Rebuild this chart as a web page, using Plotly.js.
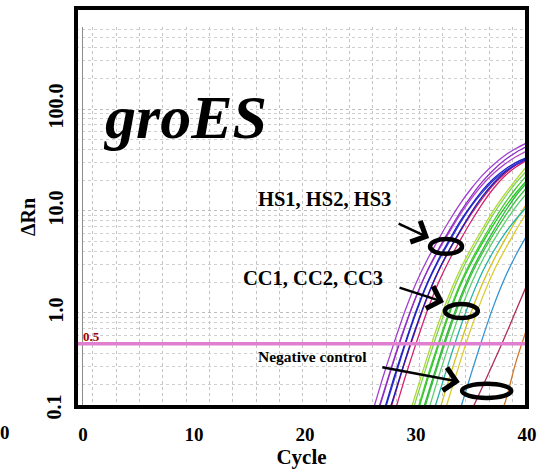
<!DOCTYPE html>
<html>
<head>
<meta charset="utf-8">
<script src="https://cdn.plot.ly/plotly-3.0.1.min.js"></script>
<style>
  html, body { margin: 0; padding: 0; background: #ffffff; }
  #chart { width: 540px; height: 469px; }
</style>
</head>
<body>
<div id="chart"></div>
<script>
// ---- data ----
const cycles = [24, 25, 26, 27, 28, 29, 30, 31, 32, 33, 34, 35, 36, 37, 38, 39, 40];

// heat-shock samples (HS1-HS3)
const hsA = [null, 0.045, 0.10, 0.23, 0.50, 1.04, 1.96, 3.31, 5.21, 8.02, 11.9, 16.7, 22.5, 28.6, 35.0, 41.0, 46.5];
const hsB = [null, 0.030, 0.068, 0.151, 0.339, 0.724, 1.43, 2.57, 4.17, 6.46, 9.77, 14.1, 19.5, 25.4, 31.6, 37.5, 43.0];
const hsC = [null, 0.031, 0.070, 0.156, 0.35, 0.74, 1.45, 2.55, 4.05, 6.2, 9.3, 13.3, 18.2, 23.4, 28.8, 34.0, 39.0];
const hsD = [null, null, 0.045, 0.10, 0.23, 0.50, 1.04, 1.96, 3.31, 5.21, 8.02, 11.5, 16.0, 20.8, 25.5, 29.8, 33.5];
const hsE = [null, null, 0.042, 0.095, 0.215, 0.48, 1.0, 1.9, 3.2, 5.0, 7.7, 11.2, 15.3, 20.0, 24.5, 28.6, 32.0];
const hsF = [null, null, 0.030, 0.068, 0.151, 0.339, 0.724, 1.43, 2.57, 4.17, 6.46, 9.77, 14.0, 18.8, 24.0, 28.5, 32.5];
const hsG = [null, null, null, 0.045, 0.10, 0.23, 0.50, 1.04, 1.96, 3.31, 5.21, 8.02, 11.9, 16.7, 22.0, 27.0, 31.5];
const hsH = [null, null, 0.028, 0.064, 0.145, 0.33, 0.70, 1.40, 2.52, 4.1, 6.3, 9.4, 13.4, 18.2, 23.2, 28.2, 33.0];

// control samples (CC1-CC3)
const ccA = [null, null, null, null, 0.032, 0.073, 0.164, 0.366, 0.78, 1.52, 2.70, 4.36, 6.74, 10.2, 14.6, 20.3, 27.5];
const ccB = [null, null, null, null, 0.027, 0.062, 0.140, 0.313, 0.673, 1.34, 2.43, 3.98, 6.18, 9.40, 13.6, 18.9, 24.8];
const ccC = [null, null, null, null, null, 0.045, 0.10, 0.23, 0.50, 1.04, 1.96, 3.31, 5.21, 8.02, 11.9, 16.7, 22.5];
const ccD = [null, null, null, null, null, 0.042, 0.094, 0.215, 0.47, 0.98, 1.86, 3.12, 4.9, 7.4, 10.8, 15.0, 20.0];
const ccE = [null, null, null, null, null, 0.030, 0.068, 0.151, 0.339, 0.724, 1.43, 2.57, 4.17, 6.46, 9.77, 14.1, 19.0];
const ccF = [null, null, null, null, null, 0.028, 0.063, 0.14, 0.315, 0.67, 1.33, 2.40, 3.90, 5.95, 8.8, 12.6, 17.0];
const ccG = [null, null, null, null, null, null, 0.045, 0.10, 0.23, 0.50, 1.04, 1.96, 3.31, 5.15, 7.7, 11.0, 15.0];

// other / late wells
const lateA = [null, null, null, null, null, null, 0.030, 0.068, 0.151, 0.339, 0.724, 1.43, 2.55, 4.05, 6.0, 8.3, 11.0];
const lateB = [null, null, null, null, null, null, null, 0.045, 0.10, 0.23, 0.50, 1.04, 1.96, 3.31, 5.21, 8.02, 11.9];
const lateC = [null, null, null, null, null, null, null, 0.030, 0.068, 0.151, 0.339, 0.724, 1.43, 2.57, 4.17, 6.46, 9.77];
const lateD = [null, null, null, null, null, null, null, null, null, 0.052, 0.115, 0.26, 0.57, 1.18, 2.2, 3.7, 5.8];
const lateE = [null, null, null, null, null, null, null, null, null, null, 0.065, 0.11, 0.19, 0.33, 0.58, 1.05, 1.9];
const lateF = [null, null, null, null, null, null, null, null, null, null, null, null, null, 0.07, 0.13, 0.33, 0.71];

const threshold = 0.5;
const thresholdX = [-0.63, 40];
const xTicks = [0, 10, 20, 30, 40];
const yTicks = [1, 10, 100];
const yTickText = ['1.0', '10.0', '100.0'];

// ---- styles ----
const seriesList = [
  {y: lateF, color: '#d2782a'},
  {y: lateE, color: '#b02c5c'},
  {y: lateD, color: '#3494d4'},
  {y: lateC, color: '#dccc30'},
  {y: lateB, color: '#d4c018'},
  {y: lateA, color: '#22b4a4'},
  {y: ccG, color: '#5cd070'},
  {y: ccF, color: '#3cc040'},
  {y: ccE, color: '#30b838'},
  {y: ccD, color: '#1ecc1e'},
  {y: ccC, color: '#48c838'},
  {y: ccB, color: '#80d454'},
  {y: ccA, color: '#b0d838'},
  {y: hsH, color: '#c81c6c'},
  {y: hsG, color: '#d4206e'},
  {y: hsF, color: '#1c1cb0'},
  {y: hsE, color: '#3232d2'},
  {y: hsD, color: '#2222c4'},
  {y: hsC, color: '#b048c8'},
  {y: hsB, color: '#8c2cc4'},
  {y: hsA, color: '#a040d0'}
];

const FONT = 'Liberation Serif, Times New Roman, serif';

const traces = seriesList.map(s => ({
  type: 'scatter', mode: 'lines', x: cycles, y: s.y,
  line: {color: s.color, width: 1.3, shape: 'spline', smoothing: 0.8},
  hoverinfo: 'skip', showlegend: false
}));

traces.push({
  type: 'scatter', mode: 'lines', x: thresholdX, y: [threshold, threshold],
  line: {color: '#e07fd0', width: 3.5}, hoverinfo: 'skip', showlegend: false
});

const layout = {
  width: 540, height: 469,
  margin: {l: 76, r: 13, t: 27, b: 62},
  paper_bgcolor: '#ffffff', plot_bgcolor: '#ffffff',
  showlegend: false,
  font: {family: FONT, color: '#000'},
  xaxis: {
    range: [-0.63, 40], tickvals: xTicks, ticks: '',
    showgrid: false, zeroline: true, zerolinecolor: '#8c8c8c', zerolinewidth: 1,
    showline: false,
    tickfont: {family: FONT, size: 19, weight: 'bold', color: '#000'},
    ticklabelstandoff: 14,
    minor: {tick0: 0.9, dtick: 2.1, showgrid: true, gridcolor: '#c4c4c4', griddash: 'dot', gridwidth: 1},
    title: {text: 'Cycle', font: {family: FONT, size: 21, weight: 'bold', color: '#000'}, standoff: 8},
    automargin: false
  },
  yaxis: {
    type: 'log', range: [-0.922, 2.804],
    tickvals: yTicks, ticktext: yTickText, tickangle: -90, ticks: '',
    showgrid: true, gridcolor: '#bdbdbd', griddash: 'dot', gridwidth: 1,
    zeroline: false, showline: false,
    tickfont: {family: FONT, size: 20, weight: 'bold', color: '#000'},
    ticklabelstandoff: 8,
    minor: {dtick: 'D1', showgrid: true, gridcolor: '#cfcfcf', griddash: 'dot', gridwidth: 1},
    title: {text: 'ΔRn', font: {family: FONT, size: 20, weight: 'bold', color: '#000'}, standoff: 4},
    automargin: false
  },
  shapes: [
    {type: 'rect', xref: 'paper', yref: 'paper', x0: 0, x1: 1, y0: 0, y1: 1.05,
     line: {color: '#000', width: 4}, fillcolor: 'rgba(0,0,0,0)'},
    {type: 'circle', xref: 'paper', yref: 'paper', x0: 0.785, x1: 0.856, y0: 0.403, y1: 0.442,
     line: {color: '#000', width: 4.5}},
    {type: 'circle', xref: 'paper', yref: 'paper', x0: 0.818, x1: 0.891, y0: 0.234, y1: 0.271,
     line: {color: '#000', width: 4.5}},
    {type: 'circle', xref: 'paper', yref: 'paper', x0: 0.856, x1: 0.965, y0: 0.024, y1: 0.061,
     line: {color: '#000', width: 4.5}}
  ],
  annotations: [
    {xref: 'paper', yref: 'paper', x: 0.056, y: 0.763, xanchor: 'left', yanchor: 'middle',
     text: '<b><i>groES</i></b>', showarrow: false, font: {family: FONT, size: 62, color: '#000'}},
    {xref: 'paper', yref: 'paper', x: 0.399, y: 0.547, xanchor: 'left', yanchor: 'middle',
     text: '<b>HS1, HS2, HS3</b>', showarrow: false, font: {family: FONT, size: 20.5, color: '#000'}},
    {xref: 'paper', yref: 'paper', x: 0.366, y: 0.339, xanchor: 'left', yanchor: 'middle',
     text: '<b>CC1, CC2, CC3</b>', showarrow: false, font: {family: FONT, size: 20.5, color: '#000'}},
    {xref: 'paper', yref: 'paper', x: 0.399, y: 0.134, xanchor: 'left', yanchor: 'middle',
     text: '<b>Negative control</b>', showarrow: false, font: {family: FONT, size: 15.5, color: '#000'}},
    {xref: 'paper', yref: 'paper', x: 0.012, y: 0.185, xanchor: 'left', yanchor: 'middle',
     text: '<b>0.5</b>', showarrow: false, font: {family: FONT, size: 13, color: '#a00000'}},
    {xref: 'paper', yref: 'paper', x: -0.0477, y: 0, xanchor: 'center', yanchor: 'middle',
     text: '<b>0.1</b>', textangle: -90, showarrow: false, font: {family: FONT, size: 20, color: '#000'}},
    {xref: 'paper', yref: 'paper', x: -0.157, y: -0.066, xanchor: 'center', yanchor: 'middle',
     text: '<b>0</b>', showarrow: false, font: {family: FONT, size: 19, color: '#000'}},
    // arrows
    {xref: 'paper', yref: 'paper', x: 0.783, y: 0.445, ax: -32, ay: -15, text: '',
     showarrow: true, arrowhead: 4, arrowsize: 1.8, arrowwidth: 2.5, arrowcolor: '#000'},
    {xref: 'paper', yref: 'paper', x: 0.816, y: 0.276, ax: -46, ay: -15, text: '',
     showarrow: true, arrowhead: 4, arrowsize: 1.8, arrowwidth: 2.5, arrowcolor: '#000'},
    {xref: 'paper', yref: 'paper', x: 0.851, y: 0.066, ax: -79, ay: -15, text: '',
     showarrow: true, arrowhead: 4, arrowsize: 1.8, arrowwidth: 2.5, arrowcolor: '#000'}
  ]
};

Plotly.newPlot('chart', traces, layout, {staticPlot: true, displayModeBar: false});
</script>
</body>
</html>
